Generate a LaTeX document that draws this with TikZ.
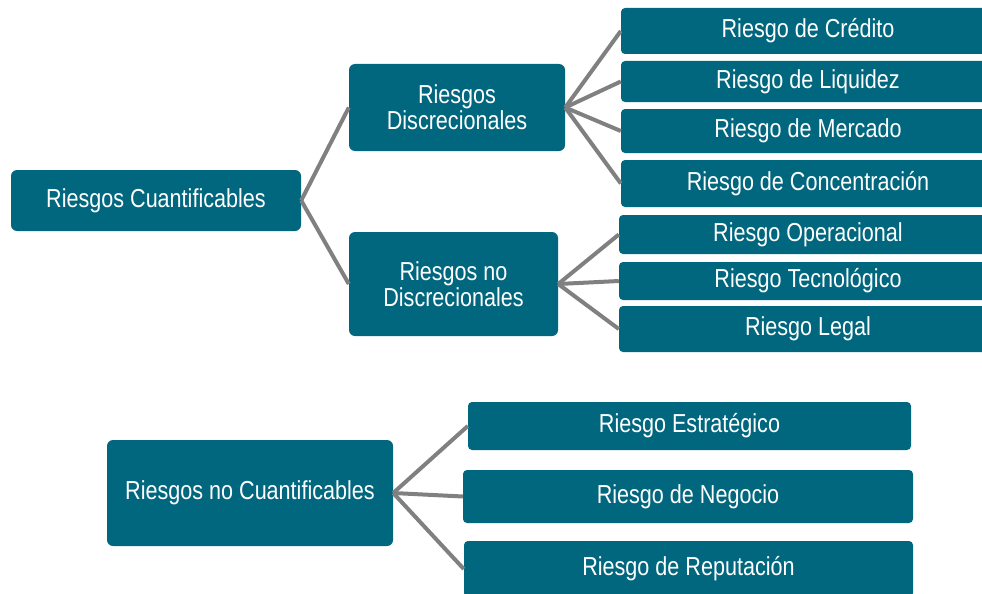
\documentclass[tikz,border=0pt]{standalone}
\usepackage{fontspec}
\setmainfont{Liberation Sans}[FakeStretch=0.83]
\definecolor{azulriesgo}{RGB}{0,103,126}
\definecolor{grislinea}{RGB}{128,128,128}
\begin{document}
\begin{tikzpicture}[x=1pt, y=-1pt, line join=round,
  caja/.style={fill=azulriesgo, text=white, rounded corners=6pt, inner sep=0pt, align=center,
    font=\fontsize{26}{26}\selectfont},
  hoja/.style={caja, rounded corners=4pt, minimum width=374pt},
  rama/.style={draw=grislinea, line width=4pt}]
% Marco de la figura
\useasboundingbox (0,0) rectangle (982,594);
\clip (0,0) rectangle (982,594);
% Riesgos cuantificables
\node[caja, minimum width=290pt, minimum height=61pt] (cuant) at (156,200.5) {Riesgos Cuantificables};
\node[caja, minimum width=216pt, minimum height=87pt] (disc) at (457,107.5) {Riesgos\\Discrecionales};
\node[caja, minimum width=209pt, minimum height=104pt] (nodisc) at (453.5,284) {Riesgos no\\Discrecionales};
% Riesgos discrecionales
\node[hoja, minimum height=46pt] (cred) at (808,31) {Riesgo de Crédito};
\node[hoja, minimum height=41pt] (liq) at (808,81.5) {Riesgo de Liquidez};
\node[hoja, minimum height=44pt] (merc) at (808,131) {Riesgo de Mercado};
\node[hoja, minimum height=47pt] (conc) at (808,183.5) {Riesgo de Concentración};
% Riesgos no discrecionales
\node[hoja, minimum width=378pt, minimum height=39pt] (oper) at (808,234.5) {Riesgo Operacional};
\node[hoja, minimum width=378pt, minimum height=38pt] (tecn) at (808,281) {Riesgo Tecnológico};
\node[hoja, minimum width=378pt, minimum height=46pt] (legal) at (808,329) {Riesgo Legal};
% Riesgos no cuantificables
\node[caja, minimum width=286pt, minimum height=106pt] (nocuant) at (250,493) {Riesgos no Cuantificables};
\node[hoja, minimum width=443pt, minimum height=48pt] (estr) at (689.5,426) {Riesgo Estratégico};
\node[hoja, minimum width=450pt, minimum height=53pt] (nego) at (688,496.5) {Riesgo de Negocio};
\node[hoja, minimum width=449pt, minimum height=56pt] (repu) at (688.5,569) {Riesgo de Reputación};
% Ramas
\draw[rama] (cuant.east) -- (disc.west);
\draw[rama] (cuant.east) -- (nodisc.west);
\foreach \h in {cred,liq,merc,conc}
  \draw[rama] (disc.east) -- (\h.west);
\foreach \h in {oper,tecn,legal}
  \draw[rama] (nodisc.east) -- (\h.west);
\foreach \h in {estr,nego,repu}
  \draw[rama] (nocuant.east) -- (\h.west);
\end{tikzpicture}
\end{document}
